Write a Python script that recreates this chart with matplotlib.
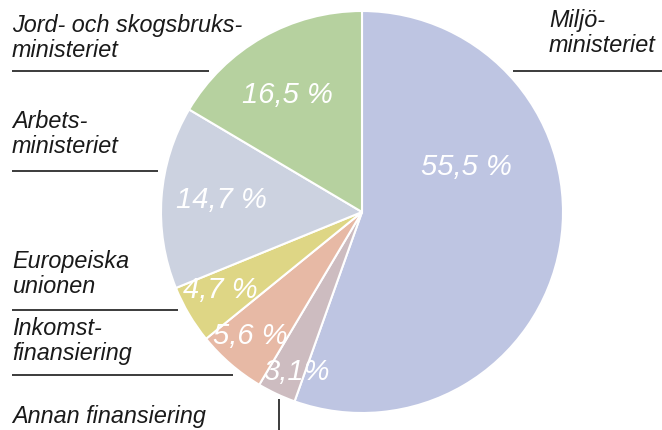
import matplotlib.pyplot as plt

# data (clockwise from top)
names = ["Miljöministeriet", "Annan finansiering", "Inkomstfinansiering",
         "Europeiska unionen", "Arbetsministeriet", "Jord- och skogsbruksministeriet"]
shares = [55.5, 3.1, 5.6, 4.7, 14.7, 16.5]
pct_labels = ["55,5 %", "3,1%", "5,6 %", "4,7 %", "14,7 %", "16,5 %"]
colors = ["#bec5e2", "#cdbcc0", "#e7b9a5", "#ded685", "#ccd2e0", "#b6d19f"]

# label lines as printed
label_lines = [["Miljö-", "ministeriet"], ["Annan finansiering"], ["Inkomst-", "finansiering"],
               ["Europeiska", "unionen"], ["Arbets-", "ministeriet"],
               ["Jord- och skogsbruks-", "ministeriet"]]

fig = plt.figure(figsize=(6.62, 4.30), dpi=100)
ax = fig.add_axes([0, 0, 1, 1])

# pixel-like coordinates, y downwards
ax.pie(shares, colors=colors, startangle=-90, counterclock=True,
       center=(362, 212), radius=201, frame=True,
       wedgeprops=dict(edgecolor="white", linewidth=1.5))
ax.set_xlim(0, 662)
ax.set_ylim(430, 0)
ax.set_aspect("auto")
ax.axis("off")

fnt = dict(family="Liberation Sans", style="italic", color="#1a1a1a", fontsize=16.8)

# where each label block starts: x, first baseline
label_pos = [(549, 27), (12, 423), (12, 335), (12, 268), (12, 128), (12, 32)]
line_gap = 25
for lines, (x, y) in zip(label_lines, label_pos):
    for i, s in enumerate(lines):
        ax.text(x, y + i * line_gap, s, ha="left", va="baseline", **fnt)

# leader lines
rules = [((513, 662), (71, 71)), ((279, 279), (399, 430)), ((12, 233), (375, 375)),
         ((12, 178), (310, 310)), ((12, 158), (171, 171)), ((12, 209), (71, 71))]
for xs, ys in rules:
    ax.plot(xs, ys, color="#1a1a1a", linewidth=1.2, solid_capstyle="butt")

# percentages inside the slices
pct_pos = [(466, 167), (297, 372), (250, 336), (220, 290), (221, 200), (287, 95)]
for s, (x, y) in zip(pct_labels, pct_pos):
    ax.text(x, y, s, ha="center", va="center", color="white", fontsize=21,
            family="Liberation Sans", style="italic")

fig.savefig("out.png", dpi=100)
